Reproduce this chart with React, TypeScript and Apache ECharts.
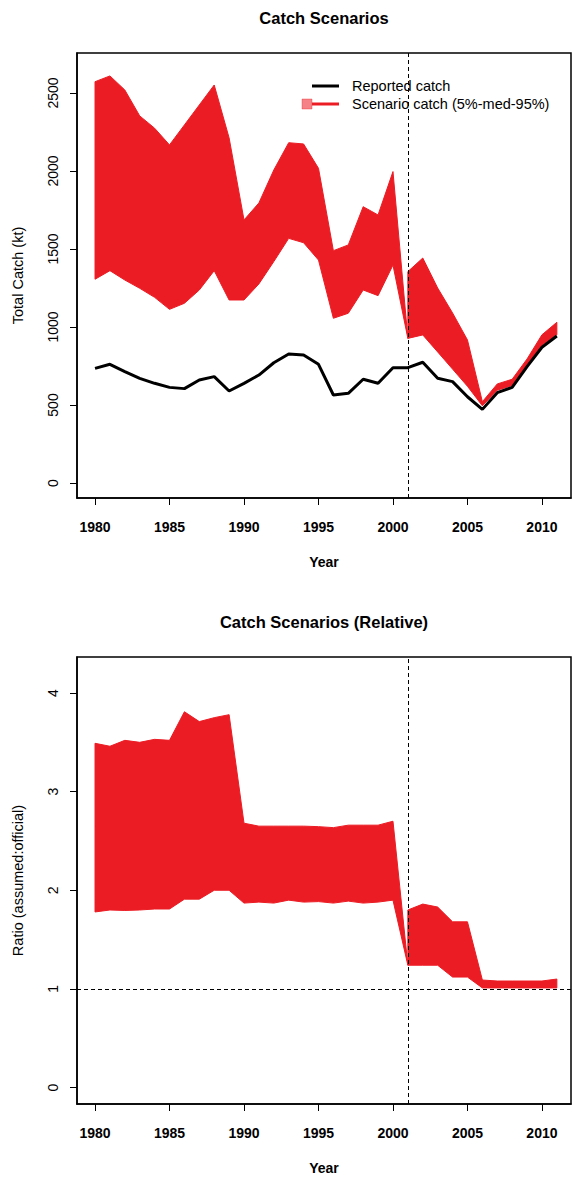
import React, { useEffect, useRef } from "react";
import * as echarts from "echarts";

const years = [1980, 1981, 1982, 1983, 1984, 1985, 1986, 1987, 1988, 1989, 1990, 1991, 1992, 1993, 1994, 1995, 1996, 1997, 1998, 1999, 2000, 2001, 2002, 2003, 2004, 2005, 2006, 2007, 2008, 2009, 2010, 2011];

const reportedCatch = [735, 761, 714, 671, 639, 613, 605, 660, 682, 590, 639, 692, 771, 827, 821, 761, 564, 575, 665, 639, 739, 739, 774, 671, 650, 553, 472, 579, 613, 746, 870, 942];

const scenarioUpper = [2572, 2609, 2519, 2353, 2274, 2167, 2295, 2423, 2551, 2212, 1686, 1795, 2006, 2181, 2173, 2017, 1489, 1526, 1771, 1718, 1996, 1355, 1442, 1250, 1090, 917, 521, 635, 665, 795, 950, 1030];

const scenarioLower = [1306, 1361, 1301, 1248, 1190, 1113, 1152, 1237, 1361, 1173, 1173, 1276, 1419, 1568, 1540, 1429, 1056, 1088, 1237, 1201, 1397, 927, 949, 840, 730, 620, 495, 595, 625, 755, 885, 950];

const ratioUpper = [3.49, 3.46, 3.52, 3.5, 3.53, 3.52, 3.81, 3.71, 3.75, 3.78, 2.68, 2.65, 2.65, 2.65, 2.65, 2.645, 2.635, 2.66, 2.66, 2.66, 2.7, 1.8, 1.86, 1.83, 1.68, 1.68, 1.09, 1.08, 1.08, 1.08, 1.08, 1.1];

const ratioLower = [1.78, 1.8, 1.795, 1.8, 1.81, 1.81, 1.91, 1.91, 2.0, 2.0, 1.87, 1.88, 1.87, 1.9, 1.88, 1.885, 1.87, 1.89, 1.87, 1.88, 1.9, 1.24, 1.24, 1.24, 1.12, 1.12, 1.01, 1.01, 1.01, 1.01, 1.01, 1.01];

const yearTicks = [1980, 1985, 1990, 1995, 2000, 2005, 2010];
const catchTicks = [0, 500, 1000, 1500, 2000, 2500];
const ratioTicks = [0, 1, 2, 3, 4];
const periodBreakYear = 2001;
const referenceRatio = 1;

const FONT = "'Liberation Sans', Arial, Helvetica, sans-serif";
const RED = "#ec1c24";

// band rows: [year, lower, upper]; at the period break the first period closes on the lower value
function buildBand(lower: number[], upper: number[]) {
  const rows: number[][] = [];
  years.forEach((y, i) => {
    if (y === periodBreakYear) rows.push([y, lower[i], lower[i]]);
    rows.push([y, lower[i], upper[i]]);
  });
  return rows;
}

function bandSeries(name: string, axisIndex: number, rows: number[][], extra: any = {}) {
  return {
    name,
    type: "custom",
    xAxisIndex: axisIndex,
    yAxisIndex: axisIndex,
    data: rows,
    encode: { x: 0, y: [1, 2] },
    silent: true,
    itemStyle: { color: RED },
    renderItem: (params: any, api: any) => {
      if (params.dataIndex !== 0) return null;
      const top = rows.map((r) => api.coord([r[0], r[2]]));
      const bottom = rows.map((r) => api.coord([r[0], r[1]])).reverse();
      return {
        type: "polygon",
        shape: { points: top.concat(bottom) },
        style: { fill: RED, stroke: RED, lineWidth: 1 },
      };
    },
    ...extra,
  };
}

function xAxisFor(gridIndex: number) {
  return {
    type: "value",
    gridIndex,
    min: 1978.79,
    max: 2011.95,
    name: "Year",
    nameLocation: "middle",
    nameGap: 57,
    nameTextStyle: { fontSize: 14, fontWeight: "bold", color: "#000", fontFamily: FONT },
    axisLine: { show: true, onZero: false, lineStyle: { color: "#000", width: 1.5 } },
    axisTick: { show: true, length: 7, customValues: yearTicks, lineStyle: { color: "#000", width: 1 } },
    axisLabel: {
      customValues: yearTicks,
      formatter: (v: number) => String(v),
      fontSize: 14,
      fontWeight: "bold",
      color: "#000",
      fontFamily: FONT,
      margin: 22,
    },
    splitLine: { show: false },
  };
}

function yAxisFor(gridIndex: number, min: number, max: number, ticks: number[], name: string) {
  return {
    type: "value",
    gridIndex,
    min,
    max,
    name,
    nameLocation: "middle",
    nameGap: 52,
    nameRotate: 90,
    nameTextStyle: { fontSize: 14.5, color: "#000", fontFamily: FONT },
    axisLine: { show: true, onZero: false, lineStyle: { color: "#000", width: 1.5 } },
    axisTick: { show: true, length: 7, customValues: ticks, lineStyle: { color: "#000", width: 1 } },
    axisLabel: {
      customValues: ticks,
      formatter: (v: number) => String(v),
      rotate: 90,
      fontSize: 14,
      color: "#000",
      fontFamily: FONT,
      margin: 17,
    },
    splitLine: { show: false },
  };
}

const dashed = { color: "#000", width: 1, type: [4, 3] };

export default function App() {
  const ref = useRef<HTMLDivElement>(null);

  useEffect(() => {
    if (!ref.current) return;
    const chart = echarts.init(ref.current, null, { renderer: "svg" });
    const catchBand = buildBand(scenarioLower, scenarioUpper);
    const ratioBand = buildBand(ratioLower, ratioUpper);

    chart.setOption({
      animation: false,
      backgroundColor: "#fff",
      textStyle: { fontFamily: FONT },
      title: [
        {
          text: "Catch Scenarios",
          left: 324,
          top: 9,
          textAlign: "center",
          padding: 0,
          textStyle: { fontSize: 16.5, fontWeight: "bold", color: "#000", fontFamily: FONT },
        },
        {
          text: "Catch Scenarios (Relative)",
          left: 324,
          top: 613,
          textAlign: "center",
          padding: 0,
          textStyle: { fontSize: 16.5, fontWeight: "bold", color: "#000", fontFamily: FONT },
        },
      ],
      legend: {
        orient: "vertical",
        left: 307,
        top: 73,
        itemWidth: 27,
        itemHeight: 3,
        itemGap: 2,
        selectedMode: false,
        textStyle: { fontSize: 14.5, lineHeight: 16, color: "#000", fontFamily: FONT, padding: [0, 0, 0, 8] },
        data: [
          { name: "Reported catch", icon: "rect", itemStyle: { color: "#000" } },
          { name: "Scenario catch (5%-med-95%)", icon: "rect", itemStyle: { color: RED } },
        ],
      },
      graphic: [
        {
          type: "rect",
          shape: { x: 302, y: 99, width: 10, height: 10 },
          style: { fill: "rgba(236,28,36,0.55)", stroke: "rgba(236,28,36,0.7)", lineWidth: 0.5 },
          z: 100,
        },
      ],
      grid: [
        { left: 77, top: 53, width: 494, height: 445, show: true, borderColor: "#000", borderWidth: 1.5, backgroundColor: "transparent" },
        { left: 77, top: 657, width: 494, height: 447, show: true, borderColor: "#000", borderWidth: 1.5, backgroundColor: "transparent" },
      ],
      xAxis: [xAxisFor(0), xAxisFor(1)],
      yAxis: [
        yAxisFor(0, -96, 2756, catchTicks, "Total Catch (kt)"),
        yAxisFor(1, -0.167, 4.365, ratioTicks, "Ratio (assumed:official)"),
      ],
      series: [
        bandSeries("Scenario catch (5%-med-95%)", 0, catchBand),
        {
          name: "Reported catch",
          type: "line",
          xAxisIndex: 0,
          yAxisIndex: 0,
          data: years.map((y, i) => [y, reportedCatch[i]]),
          symbol: "none",
          color: "#000",
          lineStyle: { color: "#000", width: 3 },
          silent: true,
          z: 5,
          markLine: {
            silent: true,
            symbol: ["none", "none"],
            label: { show: false },
            lineStyle: dashed,
            data: [{ xAxis: periodBreakYear }],
          },
        },
        bandSeries("Ratio band", 1, ratioBand, {
          markLine: {
            silent: true,
            symbol: ["none", "none"],
            label: { show: false },
            lineStyle: dashed,
            z: 10,
            data: [{ xAxis: periodBreakYear }, { yAxis: referenceRatio }],
          },
        }),
      ],
    });

    return () => chart.dispose();
  }, []);

  return (
    <div
      ref={ref}
      style={{ position: "absolute", left: 0, top: 0, width: 573, height: 1177 }}
    />
  );
}
